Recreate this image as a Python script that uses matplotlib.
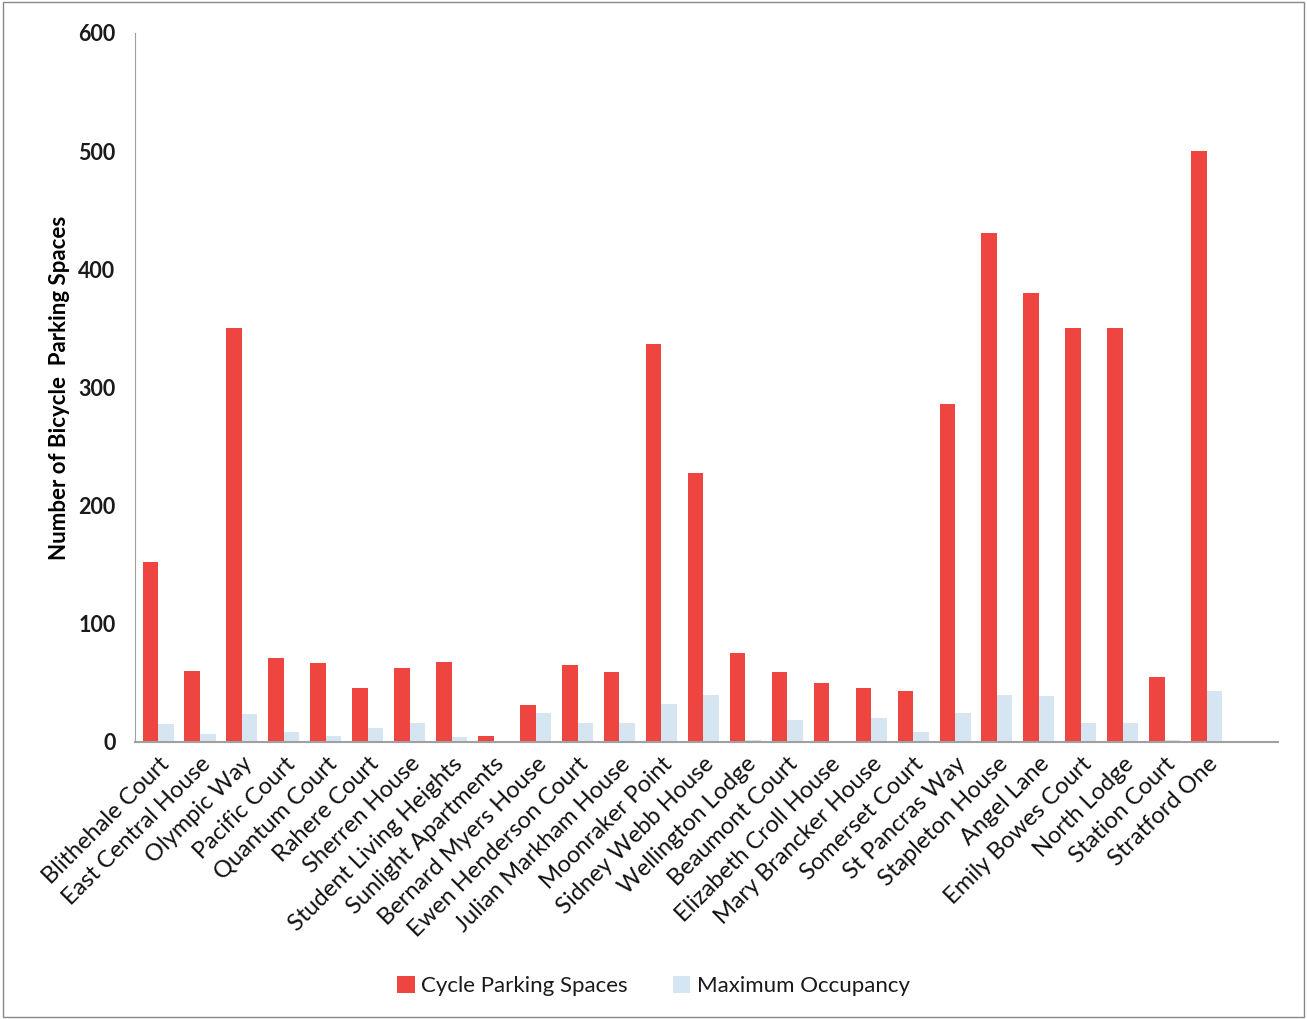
import numpy as np
from matplotlib import pyplot as plt
from matplotlib.patches import Rectangle

# Bicycle parking data per building
buildings = [
    'Blithehale Court', 'East Central House', 'Olympic Way', 'Pacific Court',
    'Quantum Court', 'Rahere Court', 'Sherren House', 'Student Living Heights',
    'Sunlight Apartments', 'Bernard Myers House', 'Ewen Henderson Court',
    'Julian Markham House', 'Moonraker Point', 'Sidney Webb House',
    'Wellington Lodge', 'Beaumont Court', 'Elizabeth Croll House',
    'Mary Brancker House', 'Somerset Court', 'St Pancras Way',
    'Stapleton House', 'Angel Lane', 'Emily Bowes Court', 'North Lodge',
    'Station Court', 'Stratford One',
]
parking_spaces = [152, 60, 350, 71, 67, 46, 63, 68, 5, 31, 65, 59, 337, 228,
                  75, 59, 50, 46, 43, 286, 431, 380, 350, 350, 55, 500]
max_occupancy = [15, 7, 24, 8.5, 5, 12, 16, 4, 0, 24.5, 16.5, 16, 32, 40,
                 1.5, 18.5, 0.5, 20, 8.5, 24.5, 40, 39, 16, 16, 2, 43.5]

red = '#ee4540'
blue = '#d5e5f2'

plt.rcParams['font.family'] = ['Lato', 'DejaVu Sans']
plt.rcParams['text.color'] = '#1a1a1a'

fig = plt.figure(figsize=(13.07, 10.19), dpi=100)
ax = fig.add_axes([135 / 1307, 1 - 742 / 1019, 1143 / 1307, 709 / 1019])

x = np.arange(len(buildings))
w = 0.37
ax.bar(x - w / 2, parking_spaces, w, color=red, label='Cycle Parking Spaces')
ax.bar(x + w / 2, max_occupancy, w, color=blue, label='Maximum Occupancy')

ax.set_xlim(-0.55, 26.7)
ax.set_ylim(0, 600)
ax.set_yticks(range(0, 601, 100))
ax.tick_params(axis='y', length=0, labelsize=15.5, pad=14, labelcolor='#1a1a1a')
ax.tick_params(axis='x', length=0, pad=8, labelcolor='#111111')
for lbl in ax.get_yticklabels():
    lbl.set_fontweight('bold')
ax.set_xticks(x)
ax.set_xticklabels(buildings, rotation=45, ha='right', rotation_mode='anchor',
                   fontsize=17)

for side in ['top', 'right']:
    ax.spines[side].set_visible(False)
ax.spines['left'].set_color('#a0a0a0')
ax.spines['bottom'].set_color('#a0a0a0')
ax.spines['bottom'].set_linewidth(1.5)

ax.set_ylabel('Number of Bicycle  Parking Spaces', fontsize=16,
              fontweight='bold', labelpad=6)

fig.legend(loc='center', bbox_to_anchor=(0.5, 1 - 986 / 1019), ncol=2,
           frameon=False, fontsize=16, handlelength=0.8, handleheight=0.8,
           columnspacing=2.0, handletextpad=0.3)

# Thin frame around the whole picture
fig.patches.append(Rectangle((0.002, 0.002), 0.996, 0.996, transform=fig.transFigure,
                             fill=False, edgecolor='#888888', linewidth=1))

fig.savefig('out.png', dpi=100)
